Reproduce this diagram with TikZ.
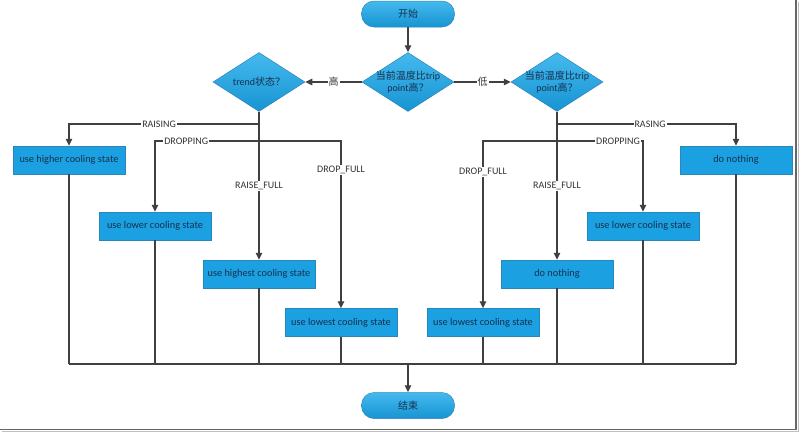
\documentclass[tikz,border=0pt]{standalone}
\usepackage{fontspec}
\setmainfont{Carlito}
\newfontfamily\cjk{Noto Sans CJK SC}
\usetikzlibrary{shapes.geometric,arrows.meta}
\definecolor{boxblue}{HTML}{1BA1E2}
\definecolor{boxedge}{HTML}{2B86BA}
\definecolor{toplight}{HTML}{45B9EE}
\definecolor{botdark}{HTML}{1694D2}
\definecolor{navy}{HTML}{16304F}
\definecolor{linegray}{HTML}{404040}
\begin{document}
\begin{tikzpicture}[x=1pt,y=-1pt,
  proc/.style={rectangle, draw=boxedge, line width=0.5pt, fill=boxblue, minimum width=112pt, minimum height=28pt, inner sep=0pt, font=\fontsize{10.3}{11}\selectfont, text=navy},
  dec/.style={diamond, draw=boxedge, line width=0.5pt, top color=toplight, bottom color=botdark, minimum width=92pt, minimum height=59pt, aspect=1.56, inner xsep=-8pt, inner ysep=-3pt, align=center, font=\fontsize{10}{12}\selectfont, text=navy},
  term/.style={rectangle, rounded corners=12.5pt, draw=boxedge, line width=0.5pt, top color=toplight, bottom color=botdark, minimum width=93pt, minimum height=26pt, inner sep=0pt, font=\fontsize{10}{11}\selectfont, text=navy},
  line/.style={draw=linegray, line width=1.1pt},
  arr/.style={line, -{Triangle[length=7pt,width=6.5pt]}},
  lab/.style={fill=white, inner sep=1pt, font=\fontsize{10}{11}\selectfont, text=black!80}
]
\useasboundingbox (0,0) rectangle (800,432);
% frame shadow
\draw[black!25, line width=1pt] (798.5,2) -- (798.5,431.5) -- (2,431.5);
\draw[black!60, line width=1.8pt] (796,0) -- (796,429.5) -- (0,429.5);

\node[term] (start) at (408,14) {\cjk 开始};
\node[dec] (dM) at (408,82) {{\cjk 当前温度比}trip\\point{\cjk 高？}};
\node[dec] (dL) at (259,82) {trend{\cjk 状态？}};
\node[dec] (dR) at (557,82) {{\cjk 当前温度比}trip\\point{\cjk 高？}};

\node[proc] (b1) at (69,160) {use higher cooling state};
\node[proc] (b2) at (155,226) {use lower cooling state};
\node[proc] (b3) at (259,274) {use highest cooling state};
\node[proc] (b4) at (341,322.5) {use lowest cooling state};
\node[proc] (b5) at (483,322.5) {use lowest cooling state};
\node[proc] (b6) at (557,274) {do nothing};
\node[proc] (b7) at (643,226) {use lower cooling state};
\node[proc] (b8) at (736,160) {do nothing};

\node[term] (end) at (408,405.5) {\cjk 结束};

\coordinate (jL1) at (259,124);
\coordinate (jL2) at (259,141);
\coordinate (jR1) at (557,124);
\coordinate (jR2) at (557,141);
\coordinate (bus) at (0,364);

\draw[arr] (start) -- (dM);
\draw[arr] (dM) -- node[lab]{\cjk 高} (dL);
\draw[arr] (dM) -- node[lab]{\cjk 低} (dR);

\draw[arr] (dL) -- node[lab]{RAISE\_FULL} (b3);
\draw[arr] (jL1) -| node[lab,pos=0.263]{RAISING} (b1);
\draw[arr] (jL2) -| node[lab,pos=0.35]{DROPPING} (b2);
\draw[arr] (jL2) -| node[lab,pos=0.587]{DROP\_FULL} (b4);

\draw[arr] (dR) -- node[lab]{RAISE\_FULL} (b6);
\draw[arr] (jR1) -| node[lab,pos=0.26]{RASING} (b8);
\draw[arr] (jR2) -| node[lab,pos=0.355]{DROPPING} (b7);
\draw[arr] (jR2) -| node[lab,pos=0.593]{DROP\_FULL} (b5);

\foreach \b in {b1,b2,b3,b4,b5,b6,b7,b8}
  \draw[line] (\b.south) -- (\b.south |- bus);
\draw[line] (b1.south |- bus) -- (b8.south |- bus);
\draw[arr] (end.north |- bus) -- (end);
\end{tikzpicture}
\end{document}
